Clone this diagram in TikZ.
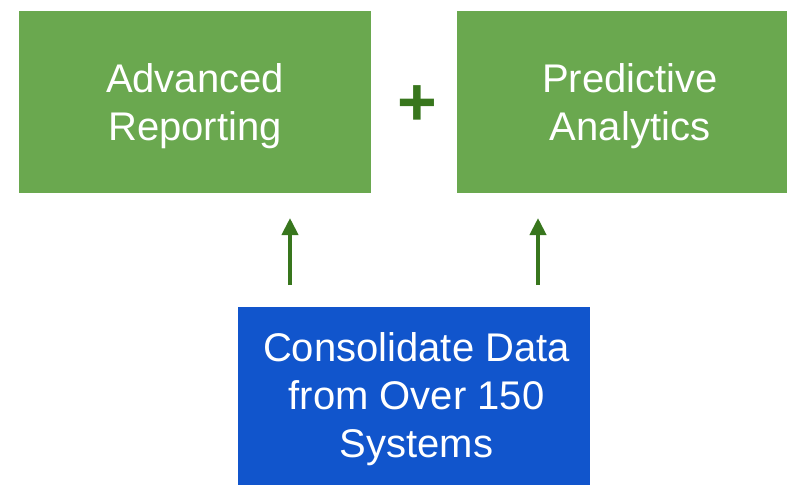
\documentclass[tikz,border=0pt]{standalone}
\usepackage{fontspec}
\setmainfont{Liberation Sans}
\usetikzlibrary{arrows.meta}
\definecolor{boxgreen}{HTML}{6AA84F}
\definecolor{boxblue}{HTML}{1155CC}
\definecolor{darkgreen}{HTML}{38761D}
\tikzset{
  x=1pt, y=-1pt,
  card/.style={anchor=north west, inner sep=0pt, outer sep=0pt},
  cardtext/.style={inner sep=0pt, text=white, align=center,
    font=\fontsize{40}{48}\selectfont},
  flow/.style={draw=darkgreen, line width=4pt,
    -{Triangle[length=17pt,width=16pt]}},
}
\begin{document}
\begin{tikzpicture}
\useasboundingbox (0,0) rectangle (787,485);
% top row: two outcomes
\node[card, fill=boxgreen, minimum width=352pt, minimum height=182pt] (rep) at (19,11) {};
\node[cardtext] (repT) at ([yshift=-4pt]rep.center) {Advanced\\Reporting};
\node[card, fill=boxgreen, minimum width=330pt, minimum height=182pt] (pred) at (457,11) {};
\node[cardtext] (predT) at ([xshift=8pt, yshift=-4pt]pred.center) {Predictive\\Analytics};
% plus sign between them
\node[text=darkgreen, inner sep=0pt, font=\fontsize{68}{68}\bfseries\selectfont]
  (plus) at (417.5,106) {+};
% bottom: data source
\node[card, fill=boxblue, minimum width=352pt, minimum height=178pt] (data) at (238,307) {};
\node[cardtext] (dataT) at ([xshift=2.5pt, yshift=-3pt]data.center) {Consolidate Data\\from Over 150\\Systems};
% arrows feeding up
\draw[flow, shorten <=22pt, shorten >=25pt]
  ([xshift=-124pt]data.north) -- ([xshift=-124pt]data.north |- rep.south);
\draw[flow, shorten <=22pt, shorten >=25pt]
  ([xshift=124pt]data.north) -- ([xshift=124pt]data.north |- pred.south);
\end{tikzpicture}
\end{document}
